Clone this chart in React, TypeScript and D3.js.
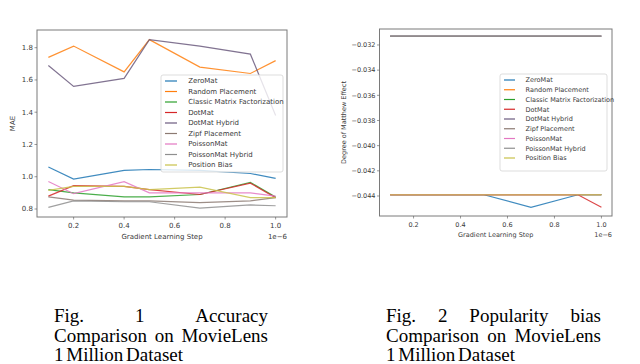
import React, { useLayoutEffect, useRef, useState } from 'react';
import * as d3 from 'd3';

// learning steps (x 1e-6)
const steps = [0.1, 0.2, 0.4, 0.5, 0.7, 0.9, 1.0];

const seriesNames = [
  'ZeroMat',
  'Random Placement',
  'Classic Matrix Factorization',
  'DotMat',
  'DotMat Hybrid',
  'Zipf Placement',
  'PoissonMat',
  'PoissonMat Hybrid',
  'Position Bias',
];

const colors = ['#1f77b4', '#ff7f0e', '#2ca02c', '#d62728', '#6b5a7e', '#8c7a72', '#e377c2', '#8f8f8f', '#c9c24a'];

// Fig 1: MAE
const maeZeroMat = [1.06, 0.985, 1.04, 1.045, 1.04, 1.02, 0.99];
const maeRandom = [1.74, 1.81, 1.65, 1.85, 1.68, 1.64, 1.72];
const maeClassic = [0.92, 0.9, 0.875, 0.875, 0.89, 0.965, 0.875];
const maeDotMat = [0.88, 0.945, 0.94, 0.92, 0.89, 0.96, 0.87];
const maeDotMatHybrid = [1.69, 1.56, 1.61, 1.85, 1.81, 1.76, 1.38];
const maeZipf = [0.875, 0.855, 0.85, 0.85, 0.84, 0.85, 0.87];
const maePoisson = [0.97, 0.895, 0.97, 0.9, 0.9, 0.9, 0.88];
const maePoissonHybrid = [0.81, 0.85, 0.845, 0.845, 0.805, 0.825, 0.82];
const maePositionBias = [0.915, 0.94, 0.94, 0.92, 0.935, 0.87, 0.87];

// Fig 2: degree of Matthew effect
const meZeroMat = [-0.0439, -0.0439, -0.0439, -0.0439, -0.0449, -0.0439, -0.0439];
const meRandom = [-0.0439, -0.0439, -0.0439, -0.0439, -0.0439, -0.0439, -0.0439];
const meClassic = [-0.0439, -0.0439, -0.0439, -0.0439, -0.0439, -0.0439, -0.0439];
const meDotMat = [-0.0439, -0.0439, -0.0439, -0.0439, -0.0439, -0.0439, -0.0449];
const meDotMatHybrid = [-0.0313, -0.0313, -0.0313, -0.0313, -0.0313, -0.0313, -0.0313];
const meZipf = [-0.0313, -0.0313, -0.0313, -0.0313, -0.0313, -0.0313, -0.0313];
const mePoisson = [-0.0439, -0.0439, -0.0439, -0.0439, -0.0439, -0.0439, -0.0439];
const mePoissonHybrid = [-0.0313, -0.0313, -0.0313, -0.0313, -0.0313, -0.0313, -0.0313];
const mePositionBias = [-0.0439, -0.0439, -0.0439, -0.0439, -0.0439, -0.0439, -0.0439];

const xTicks = [0.2, 0.4, 0.6, 0.8, 1.0];
const maeTicks = [0.8, 1.0, 1.2, 1.4, 1.6, 1.8];
const meTicks = [-0.044, -0.042, -0.04, -0.038, -0.036, -0.034, -0.032];

const FONT = "'DejaVu Sans', sans-serif";
const INK = '#3a3a3a';

type ChartProps = {
  series: number[][];
  left: number;
  right: number;
  top: number;
  bottom: number;
  yDomain: [number, number];
  yTicks: number[];
  yFormat: (v: number) => string;
  yLabel: string;
  yLabelX: number;
  fs: number;
  legend: { x: number; y: number; w: number; h: number; handle: number };
};

const LineChart = ({ series, left, right, top, bottom, yDomain, yTicks, yFormat, yLabel, yLabelX, fs, legend }: ChartProps) => {
  const x = d3.scaleLinear().domain([0.055, 1.045]).range([left, right]);
  const y = d3.scaleLinear().domain(yDomain).range([bottom, top]);
  const line = d3
    .line<number>()
    .x((d, i) => x(steps[i]))
    .y(d => y(d));
  const rowH = fs * 1.5;

  return (
    <g fontFamily={FONT} fill={INK}>
      {series.map((vals, i) => (
        <path key={i} d={line(vals) || ''} fill="none" stroke={colors[i]} strokeWidth={1.2} opacity={0.85} />
      ))}
      <rect x={left} y={top} width={right - left} height={bottom - top} fill="none" stroke="#7a7a7a" strokeWidth={1} />
      {xTicks.map(t => (
        <g key={t}>
          <line x1={x(t)} x2={x(t)} y1={bottom} y2={bottom + 2.5} stroke="#555" strokeWidth={0.6} />
          <text x={x(t)} y={bottom + 4 + fs} fontSize={fs} textAnchor="middle">
            {t.toFixed(1)}
          </text>
        </g>
      ))}
      {yTicks.map(t => (
        <g key={t}>
          <line x1={left - 2.5} x2={left} y1={y(t)} y2={y(t)} stroke="#555" strokeWidth={0.6} />
          <text x={left - 4} y={y(t)} dy="0.35em" fontSize={fs} textAnchor="end">
            {yFormat(t)}
          </text>
        </g>
      ))}
      <text x={(left + right) / 2} y={bottom + 7 + fs * 2.1} fontSize={fs} textAnchor="middle">
        Gradient Learning Step
      </text>
      <text x={right} y={bottom + 7 + fs * 2.1} fontSize={fs} textAnchor="end">
        1e−6
      </text>
      <text
        transform={`translate(${yLabelX},${(top + bottom) / 2}) rotate(-90)`}
        fontSize={fs}
        textAnchor="middle"
      >
        {yLabel}
      </text>
      <rect
        x={legend.x}
        y={legend.y}
        width={legend.w}
        height={legend.h}
        rx={2}
        fill="#fff"
        fillOpacity={0.8}
        stroke="#d4d4d4"
        strokeWidth={0.8}
      />
      {seriesNames.map((name, i) => {
        const ry = legend.y + 6 + i * rowH;
        return (
          <g key={name}>
            <line
              x1={legend.x + 4}
              x2={legend.x + 4 + legend.handle}
              y1={ry}
              y2={ry}
              stroke={colors[i]}
              strokeWidth={1.2}
            />
            <text x={legend.x + 8 + legend.handle * 1.6} y={ry} dy="0.35em" fontSize={fs}>
              {name}
            </text>
          </g>
        );
      })}
    </g>
  );
};

// one caption line, words spread to fill the width (justified text)
const JustifiedLine = ({ words, x, y, width }: { words: string[]; x: number; y: number; width: number }) => {
  const refs = useRef<(SVGTextElement | null)[]>([]);
  const [xs, setXs] = useState<number[] | null>(null);

  useLayoutEffect(() => {
    const ws = refs.current.map(el => (el ? el.getComputedTextLength() : 0));
    const total = ws.reduce((a, b) => a + b, 0);
    const gap = (width - total) / Math.max(1, words.length - 1);
    let cx = x;
    const out: number[] = [];
    ws.forEach(w => {
      out.push(cx);
      cx += w + gap;
    });
    setXs(out);
  }, [words, x, width]);

  return (
    <>
      {words.map((w, i) => (
        <text key={i} ref={el => (refs.current[i] = el)} x={xs ? xs[i] : x + i * 40} y={y}>
          {w}
        </text>
      ))}
    </>
  );
};

const CAP_FONT = "'Liberation Serif', 'Times New Roman', Times, serif";

const App = () => {
  const fmtMae = (v: number) => v.toFixed(1);
  const fmtMe = (v: number) => d3.format('.3f')(v).replace('-', '−');

  return (
    <svg
      width={640}
      height={364}
      viewBox="0 0 640 364"
      style={{ position: 'absolute', left: 0, top: 0, background: '#fff' }}
    >
      <LineChart
        series={[
          maeZeroMat,
          maeRandom,
          maeClassic,
          maeDotMat,
          maeDotMatHybrid,
          maeZipf,
          maePoisson,
          maePoissonHybrid,
          maePositionBias,
        ]}
        left={37}
        right={287}
        top={30}
        bottom={217}
        yDomain={[0.7504, 1.9097]}
        yTicks={maeTicks}
        yFormat={fmtMae}
        yLabel="MAE"
        yLabelX={15}
        fs={7}
        legend={{ x: 161, y: 75, w: 122, h: 97, handle: 12 }}
      />
      <LineChart
        series={[
          meZeroMat,
          meRandom,
          meClassic,
          meDotMat,
          meDotMatHybrid,
          meZipf,
          mePoisson,
          mePoissonHybrid,
          mePositionBias,
        ]}
        left={379.5}
        right={612}
        top={29}
        bottom={216}
        yDomain={[-0.04559, -0.03073]}
        yTicks={meTicks}
        yFormat={fmtMe}
        yLabel="Degree of Matthew Effect"
        yLabelX={346}
        fs={6.5}
        legend={{ x: 500, y: 74, w: 107, h: 97, handle: 11 }}
      />
      <g style={{ fontFamily: CAP_FONT }} fontSize={19} fill="#000">
        <JustifiedLine words={['Fig.', '1', 'Accuracy']} x={54} y={322} width={214} />
        <JustifiedLine words={['Comparison', 'on', 'MovieLens']} x={54} y={341.5} width={214} />
        <text x={54} y={361} wordSpacing={-2}>1 Million Dataset</text>

        <JustifiedLine words={['Fig.', '2', 'Popularity', 'bias']} x={386} y={322} width={215} />
        <JustifiedLine words={['Comparison', 'on', 'MovieLens']} x={386} y={341.5} width={215} />
        <text x={386} y={361} wordSpacing={-2}>1 Million Dataset</text>
      </g>
    </svg>
  );
};

export default App;
